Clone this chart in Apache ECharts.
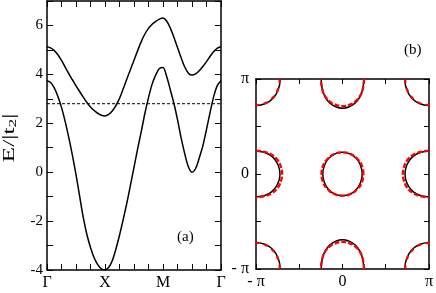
<!DOCTYPE html>
<html>
<head>
<meta charset="utf-8">
<title>bands and Fermi surface</title>
<script src="https://cdn.jsdelivr.net/npm/echarts@6/dist/echarts.min.js"></script>
</head>
<body style="margin:0">
<div id="main" style="width:436px;height:293px"></div>
<script>
// (a) band energies along the path Γ-X-M-Γ (k in path steps, 4 per segment)
var kPath = [0,0.25,0.5,0.75,1,1.25,1.5,1.75,2,2.25,2.5,2.75,3,3.25,3.5,3.75,4,
             4.25,4.5,4.75,5,5.25,5.5,5.75,6,6.25,6.5,6.75,7,7.25,7.5,7.75,8,
             8.25,8.5,8.75,9,9.25,9.5,9.75,10,10.25,10.5,10.75,11,11.25,11.5,11.75,12];
var upperBand = [5.13,5.08,4.97,4.80,4.57,4.30,4.03,3.78,3.53,3.30,3.07,2.85,2.67,2.52,2.41,2.33,2.30,
                 2.36,2.50,2.72,3.02,3.40,3.80,4.19,4.58,4.97,5.34,5.65,5.88,6.05,6.17,6.26,6.30,
                 6.18,5.90,5.52,5.10,4.68,4.30,4.05,3.97,4.02,4.15,4.32,4.52,4.74,4.93,5.07,5.13];
var lowerBand = [3.74,3.67,3.45,3.10,2.65,2.08,1.42,0.70,-0.10,-0.98,-1.85,-2.55,-3.08,-3.50,-3.78,-3.95,-4.00,
                 -3.90,-3.62,-3.15,-2.58,-1.95,-1.28,-0.55,0.20,0.95,1.66,2.40,3.05,3.60,3.98,4.24,4.28,
                 3.92,3.38,2.82,2.15,1.40,0.75,0.22,0.00,0.15,0.58,1.08,1.75,2.45,3.10,3.55,3.74];
var fermiLevel = 2.8;
var symLabels = ['Γ', 'X', 'M', 'Γ'];

// (b) Fermi surface pockets, units of π, offsets from pocket centre / zone edge
var centerBlack = [[0.228,0],[0.21,0.087],[0.161,0.162],[0.086,0.212],[0,0.228]];
var centerRed   = [[0.242,0],[0.224,0.09],[0.168,0.163],[0.09,0.212],[0,0.228]];
var sideBlack = [[0,0.24],[0.1,0.226],[0.18,0.188],[0.235,0.13],[0.265,0.07],[0.277,0]];
var sideRed   = [[0,0.245],[0.1,0.232],[0.19,0.198],[0.255,0.14],[0.288,0.075],[0.302,0]];
var topBlack = [[0.246,0],[0.235,0.1],[0.2,0.19],[0.14,0.258],[0.072,0.295],[0,0.307]];
var topRed   = [[0.25,0],[0.238,0.09],[0.205,0.175],[0.145,0.238],[0.075,0.273],[0,0.286]];
var cornerBlack = [[0,0.28],[0.11,0.258],[0.2,0.2],[0.258,0.11],[0.28,0]];
var cornerRed   = [[0,0.275],[0.105,0.255],[0.195,0.195],[0.255,0.105],[0.275,0]];

function ring(q) {
    var out = q.slice();
    q.slice(0, -1).reverse().forEach(function (p) { out.push([-p[0], p[1]]); });
    q.slice(1).forEach(function (p) { out.push([-p[0], -p[1]]); });
    q.slice(0, -1).reverse().forEach(function (p) { out.push([p[0], -p[1]]); });
    return out;
}
function mirrorY(h) {
    var out = h.slice();
    h.slice(0, -1).reverse().forEach(function (p) { out.push([p[0], -p[1]]); });
    return out;
}
function mirrorX(h) {
    var out = h.slice();
    h.slice(0, -1).reverse().forEach(function (p) { out.push([-p[0], p[1]]); });
    return out;
}
function place(pts, fx) { return pts.map(fx); }

function pockets(center, side, top, corner) {
    var list = [];
    list.push(ring(center));
    var s = mirrorY(side);
    list.push(place(s, function (p) { return [-1 + p[0], p[1]]; }));
    list.push(place(s, function (p) { return [1 - p[0], p[1]]; }));
    var t = mirrorX(top);
    list.push(place(t, function (p) { return [p[0], 1 - p[1]]; }));
    list.push(place(t, function (p) { return [p[0], -1 + p[1]]; }));
    return { main: list, corners: [
        place(corner, function (p) { return [-1 + p[0], 1 - p[1]]; }),
        place(corner, function (p) { return [1 - p[0], 1 - p[1]]; }),
        place(corner, function (p) { return [-1 + p[0], -1 + p[1]]; }),
        place(corner, function (p) { return [1 - p[0], -1 + p[1]]; })
    ]};
}

var serif = 'Liberation Serif';
var tickStyle = { inside: true, length: 6, lineStyle: { color: '#000', width: 1 } };
var tickStyleB = { inside: true, length: 5, lineStyle: { color: '#000', width: 1 } };
var lineStyle = { show: true, onZero: false, lineStyle: { color: '#000', width: 1.5 } };

function zip(xs, ys) { return xs.map(function (x, i) { return [x, ys[i]]; }); }

var series = [
    { type: 'line', xAxisIndex: 0, yAxisIndex: 0, data: [[0, fermiLevel], [12, fermiLevel]],
      symbol: 'none', lineStyle: { color: '#000', width: 1, type: [3, 2] } },
    { type: 'line', xAxisIndex: 0, yAxisIndex: 0, data: zip(kPath, upperBand), smooth: 0.3,
      symbol: 'none', lineStyle: { color: '#000', width: 1.5 } },
    { type: 'line', xAxisIndex: 0, yAxisIndex: 0, data: zip(kPath, lowerBand), smooth: 0.3,
      symbol: 'none', lineStyle: { color: '#000', width: 1.5 } }
];

var black = pockets(centerBlack, sideBlack, topBlack, cornerBlack);
var red = pockets(centerRed, sideRed, topRed, cornerRed);
black.main.concat(black.corners).forEach(function (d) {
    series.push({ type: 'line', xAxisIndex: 2, yAxisIndex: 2, data: d, smooth: 0.5, symbol: 'none',
        lineStyle: { color: '#000', width: 1.5 } });
});
red.main.forEach(function (d) {
    series.push({ type: 'line', xAxisIndex: 2, yAxisIndex: 2, data: d, smooth: 0.5, symbol: 'none',
        lineStyle: { color: '#ff0000', width: 2.3, type: [5, 2] } });
});
red.corners.forEach(function (d) {
    series.push({ type: 'line', xAxisIndex: 2, yAxisIndex: 2, data: d, smooth: 0.5, symbol: 'none',
        lineStyle: { color: '#ff0000', width: 2.3, type: [2, 7], cap: 'round' } });
});

function piLabel(v) {
    if (v === 1) return 'π';
    if (v === -1) return '- π';
    if (v === 0) return '0';
    return '';
}

var option = {
    animation: false,
    grid: [
        { left: 47, top: 1, width: 174, height: 269 },
        { left: 256, top: 79, width: 173, height: 190 }
    ],
    xAxis: [
        { gridIndex: 0, type: 'value', min: 0, max: 12, interval: 1, axisLine: lineStyle, axisTick: tickStyle,
          splitLine: { show: false },
          axisLabel: { margin: 5, color: '#000', fontFamily: serif, fontSize: 16,
              formatter: function (v) { return v % 4 === 0 ? symLabels[v / 4] : ''; } } },
        { gridIndex: 0, type: 'value', position: 'top', min: 0, max: 12, interval: 1, axisLine: lineStyle,
          axisTick: tickStyle, splitLine: { show: false }, axisLabel: { show: false } },
        { gridIndex: 1, type: 'value', min: -1, max: 1, interval: 0.5, axisLine: lineStyle,
          axisTick: tickStyleB, splitLine: { show: false },
          axisLabel: { margin: 5, color: '#000', fontFamily: serif, fontSize: 16, formatter: piLabel } },
        { gridIndex: 1, type: 'value', position: 'top', min: -1, max: 1, interval: 0.5, axisLine: lineStyle,
          axisTick: tickStyleB, splitLine: { show: false }, axisLabel: { show: false } }
    ],
    yAxis: [
        { gridIndex: 0, type: 'value', min: -4, max: 7, interval: 1, axisLine: lineStyle, axisTick: tickStyle,
          splitLine: { show: false },
          axisLabel: { margin: 4, color: '#000', fontFamily: serif, fontSize: 15,
              formatter: function (v) { return (v % 2 === 0 && v < 7) ? String(v) : ''; } } },
        { gridIndex: 0, type: 'value', position: 'right', min: -4, max: 7, interval: 1, axisLine: lineStyle,
          axisTick: tickStyle, splitLine: { show: false }, axisLabel: { show: false } },
        { gridIndex: 1, type: 'value', min: -1, max: 1, interval: 0.5, axisLine: lineStyle,
          axisTick: tickStyleB, splitLine: { show: false },
          axisLabel: { margin: 7, color: '#000', fontFamily: serif, fontSize: 16, formatter: piLabel } },
        { gridIndex: 1, type: 'value', position: 'right', min: -1, max: 1, interval: 0.5, axisLine: lineStyle,
          axisTick: tickStyleB, splitLine: { show: false }, axisLabel: { show: false } }
    ],
    graphic: [
        { type: 'text', x: 10, y: 138, rotation: Math.PI / 2, scaleX: 1.6,
          style: { text: '{e|E/|t}{s|2}{e||}', align: 'center', verticalAlign: 'middle',
              rich: {
                  e: { fontFamily: serif, fontSize: 16, fill: '#000' },
                  s: { fontFamily: serif, fontSize: 11, fill: '#000', padding: [7, 0, 0, 0] } } } },
        { type: 'text', left: 177, top: 230, style: { text: '(a)', font: '15px "Liberation Serif"', fill: '#000' } },
        { type: 'text', left: 404, top: 43, style: { text: '(b)', font: '15px "Liberation Serif"', fill: '#000' } }
    ],
    series: series
};

var chart = echarts.init(document.getElementById('main'));
chart.setOption(option);
</script>
</body>
</html>
